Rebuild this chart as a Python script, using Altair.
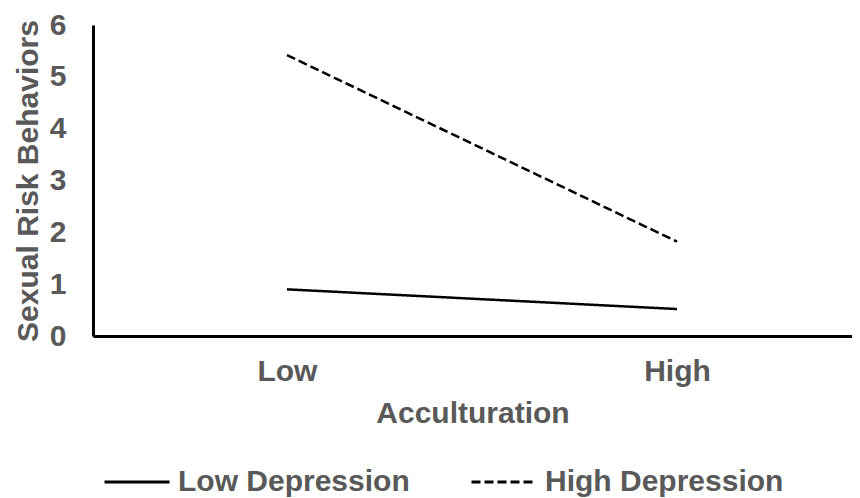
import altair as alt
import pandas as pd

categories = ["Low", "High"]
series_names = ["Low Depression", "High Depression"]
low_depression = [0.9, 0.52]
high_depression = [5.42, 1.82]

rows = []
for c, v in zip(categories, low_depression):
    rows.append({"acc": c, "val": v, "series": series_names[0]})
for c, v in zip(categories, high_depression):
    rows.append({"acc": c, "val": v, "series": series_names[1]})
df = pd.DataFrame(rows)

FONT = "Liberation Sans"
GRAY = "#595959"
FS = 30

chart = alt.Chart(df).mark_line(strokeWidth=2.5, color="black").encode(
    x=alt.X("acc:N", sort=categories,
            scale=alt.Scale(type="point", padding=0.473, align=0.5257),
            axis=alt.Axis(title="Acculturation", labelAngle=0, ticks=False, tickSize=0,
                          labelPadding=20, titlePadding=12, grid=False,
                          domainColor="black", domainWidth=3)),
    y=alt.Y("val:Q", scale=alt.Scale(domain=[0, 6], nice=False, zero=True),
            axis=alt.Axis(title="Sexual Risk Behaviors", values=[0, 1, 2, 3, 4, 5, 6],
                          ticks=False, tickSize=0, labelPadding=27, titlePadding=6,
                          grid=False, domainColor="black", domainWidth=3)),
    strokeDash=alt.StrokeDash("series:N",
        scale=alt.Scale(domain=series_names, range=[[1, 0], [9, 4]]),
        legend=alt.Legend(title=None, orient="none", legendX=10, legendY=423,
                          direction="horizontal", symbolType="stroke", symbolSize=4225,
                          symbolStrokeWidth=3, symbolStrokeColor="black",
                          labelOffset=7, columnPadding=55, padding=0,
                          labelFontSize=FS, labelFont=FONT, labelFontWeight="bold",
                          labelColor=GRAY, labelLimit=400)),
    detail="series:N",
).properties(
    width=759, height=311,
    autosize=alt.AutoSizeParams(type="none"),
    padding={"left": 85, "top": 17, "right": 0, "bottom": 162},
).configure_view(stroke=None).configure_axis(
    labelFont=FONT, labelFontSize=FS, labelFontWeight="bold", labelColor=GRAY,
    titleFont=FONT, titleFontSize=FS, titleFontWeight="bold", titleColor=GRAY,
)

chart.save("out.html", embed_options={"renderer": "svg", "actions": False})
